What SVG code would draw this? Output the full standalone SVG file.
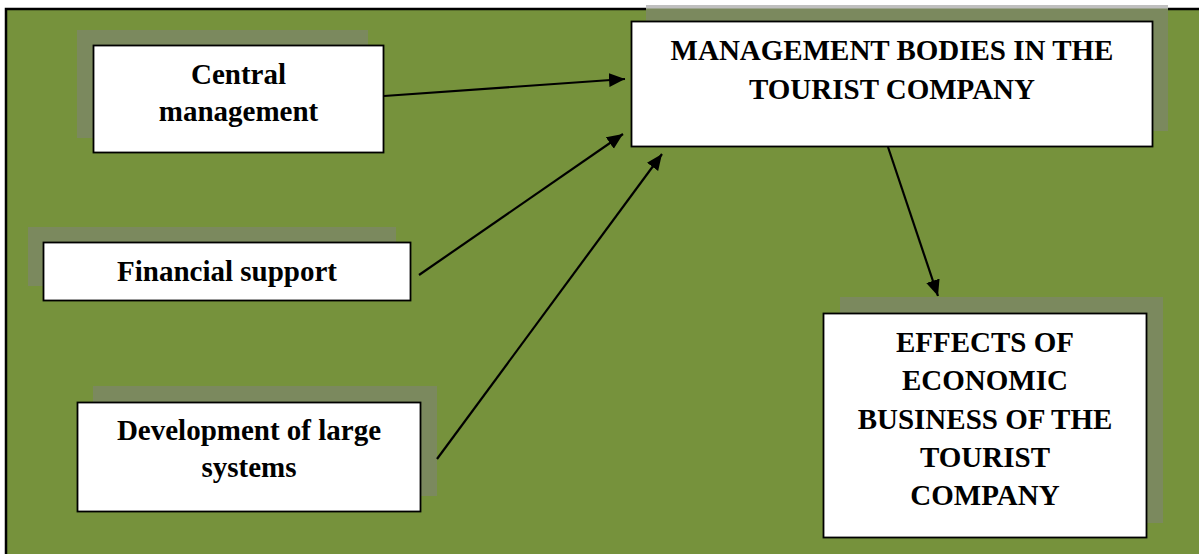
<svg xmlns="http://www.w3.org/2000/svg" width="1199" height="554" viewBox="0 0 1199 554">
  <style>
    .frame { fill: #76923C; stroke: #000; stroke-width: 2.5; }
    .shadow { fill: #7B895E; }
    .box { fill: #fff; stroke: #000; stroke-width: 1.8; }
    .lbl { font-family: "Liberation Serif", "Times New Roman", serif; font-weight: bold; font-size: 29px; fill: #000; text-anchor: middle; }
    .conn { stroke: #000; stroke-width: 2.2; fill: none; marker-end: url(#ah); }
  </style>
  <defs>
    <marker id="ah" markerUnits="userSpaceOnUse" markerWidth="18" markerHeight="16" refX="16" refY="7" orient="auto">
      <path d="M0,0 L16,7 L0,14 Z" fill="#000"/>
    </marker>
  </defs>
  <rect width="1199" height="554" fill="#fff"/>
  <rect class="frame" x="6" y="9" width="1200" height="560"/>

  <g id="central">
    <rect class="shadow" x="77" y="30" width="291" height="108"/>
    <rect class="box" x="93.5" y="45.5" width="290" height="107"/>
    <text class="lbl" x="238.5" y="84">Central</text>
    <text class="lbl" x="238.5" y="121">management</text>
  </g>

  <g id="financial">
    <rect class="shadow" x="28" y="227" width="368" height="59"/>
    <rect class="box" x="43.5" y="242.5" width="367" height="58"/>
    <text class="lbl" x="227" y="281">Financial support</text>
  </g>

  <g id="development">
    <rect class="shadow" x="93" y="386" width="344" height="110"/>
    <rect class="box" x="77.5" y="402.5" width="343" height="109"/>
    <text class="lbl" x="249" y="439.5">Development of large</text>
    <text class="lbl" x="249" y="477">systems</text>
  </g>

  <g id="management">
    <rect class="shadow" x="646" y="5" width="522" height="126"/>
    <rect x="646" y="5" width="522" height="3.5" fill="#BFBFBF"/>
    <rect class="box" x="631.5" y="21.5" width="521" height="125"/>
    <text class="lbl" x="892" y="60">MANAGEMENT BODIES IN THE</text>
    <text class="lbl" x="892" y="98.5">TOURIST COMPANY</text>
  </g>

  <g id="effects">
    <rect class="shadow" x="840" y="297" width="323" height="226"/>
    <rect class="box" x="823.5" y="313.5" width="323" height="224"/>
    <text class="lbl" x="985" y="352">EFFECTS OF</text>
    <text class="lbl" x="985" y="390">ECONOMIC</text>
    <text class="lbl" x="985" y="428.5">BUSINESS OF THE</text>
    <text class="lbl" x="985" y="467">TOURIST</text>
    <text class="lbl" x="985" y="505">COMPANY</text>
  </g>

  <g id="connectors">
    <line class="conn" x1="384" y1="96" x2="625" y2="79"/>
    <line class="conn" x1="419" y1="275" x2="623" y2="134"/>
    <line class="conn" x1="437" y1="459" x2="662" y2="154"/>
    <line class="conn" x1="888" y1="147" x2="938" y2="296"/>
  </g>
</svg>
